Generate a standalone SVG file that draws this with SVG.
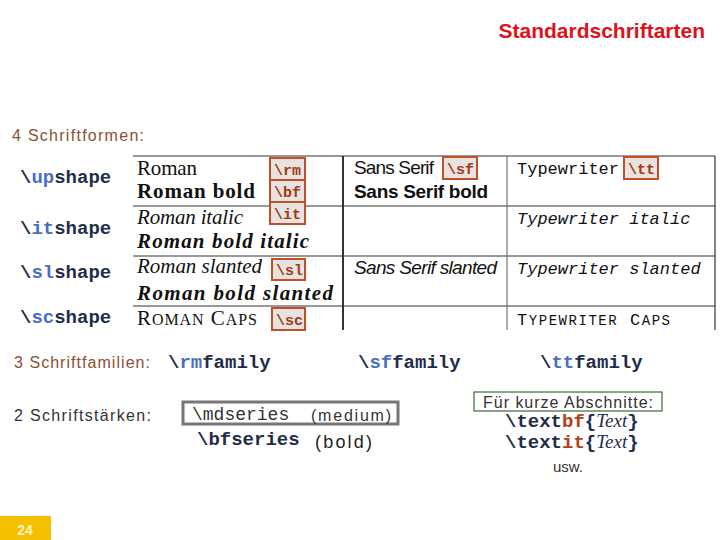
<svg xmlns="http://www.w3.org/2000/svg" width="720" height="540" viewBox="0 0 720 540">
<style>
.cmd{font-family:"Liberation Mono",monospace;font-weight:bold;font-size:19px;fill:#1f2d4a}
.blue{fill:#4a6fc0}
.red{fill:#b5401a}
.rm{font-family:"Liberation Serif",serif;font-size:21px;fill:#111}
.ss{font-family:"Liberation Sans",sans-serif;font-size:19px;fill:#111}
.tt{font-family:"Liberation Mono",monospace;font-size:17px;fill:#111}
.lbl{font-family:"Liberation Sans",sans-serif;font-size:16px}
.box{fill:#e8e3e0;stroke:#c0502a;stroke-width:2}
.boxt{font-family:"Liberation Mono",monospace;font-weight:bold;font-size:15px;fill:#a33b12}
</style>
<rect width="720" height="540" fill="#fff"/>
<text id="title" x="705" y="38" text-anchor="end" font-family="Liberation Sans,sans-serif" font-weight="bold" font-size="21" fill="#e0101a">Standardschriftarten</text>
<text x="12" y="141" class="lbl" fill="#8a5030" textLength="132">4 Schriftformen:</text>
<g id="shapes">
<text x="20" y="183" class="cmd">\<tspan class="blue">up</tspan>shape</text>
<text x="20" y="234" class="cmd">\<tspan class="blue">it</tspan>shape</text>
<text x="20" y="278" class="cmd">\<tspan class="blue">sl</tspan>shape</text>
<text x="20" y="323" class="cmd">\<tspan class="blue">sc</tspan>shape</text>
</g>
<g id="table">
<g stroke="#333" stroke-width="1.2">
<line x1="133" y1="156" x2="715" y2="156"/>
<line x1="133" y1="206" x2="715" y2="206"/>
<line x1="133" y1="256" x2="715" y2="256"/>
<line x1="133" y1="306" x2="715" y2="306"/>
<line x1="343" y1="156" x2="343" y2="330" stroke-width="2"/>
<line x1="507" y1="156" x2="507" y2="330" stroke="#777"/>
<line x1="715" y1="156" x2="715" y2="330"/>
</g>
<text x="137" y="175" class="rm" textLength="60">Roman</text>
<text x="137" y="198" class="rm" font-weight="bold" textLength="118">Roman bold</text>
<text x="137" y="224" class="rm" font-style="italic" textLength="106">Roman italic</text>
<text x="137" y="248" class="rm" font-weight="bold" font-style="italic" textLength="172">Roman bold italic</text>
<text x="137" y="273" class="rm" font-style="italic" textLength="125">Roman slanted</text>
<text x="137" y="300" class="rm" font-weight="bold" font-style="italic" font-size="20" textLength="196">Roman bold slanted</text>
<text x="137" y="325" class="rm" textLength="120">R<tspan font-size="16">OMAN</tspan> C<tspan font-size="16">APS</tspan></text>
<text x="354" y="174" class="ss" textLength="80">Sans Serif</text>
<text x="354" y="198" class="ss" font-weight="bold" textLength="134">Sans Serif bold</text>
<text x="354" y="274" class="ss" font-style="italic" textLength="143">Sans Serif slanted</text>
<text x="517" y="174" class="tt">Typewriter</text>
<text x="517" y="224" class="tt" font-style="italic">Typewriter italic</text>
<text x="517" y="274" class="tt" font-style="italic">Typewriter slanted</text>
<text x="517" y="325" class="tt" textLength="153">T<tspan font-size="14">YPEWRITER</tspan> C<tspan font-size="14">APS</tspan></text>
</g>
<g id="tags">
<rect x="270" y="158" width="35" height="22" class="box"/><text x="274" y="175" class="boxt">\rm</text>
<rect x="270" y="180" width="35" height="22" class="box"/><text x="274" y="197" class="boxt">\bf</text>
<rect x="270" y="202" width="35" height="22" class="box"/><text x="274" y="219" class="boxt">\it</text>
<rect x="272" y="259" width="33" height="21" class="box"/><text x="276" y="275" class="boxt">\sl</text>
<rect x="272" y="308" width="33" height="22" class="box"/><text x="276" y="325" class="boxt">\sc</text>
<rect x="443" y="157" width="34" height="22" class="box"/><text x="447" y="174" class="boxt">\sf</text>
<rect x="624" y="157" width="34" height="22" class="box"/><text x="628" y="174" class="boxt">\tt</text>
</g>
<g id="families">
<text x="14" y="368" class="lbl" fill="#8a5030" textLength="136">3 Schriftfamilien:</text>
<text x="168" y="368" class="cmd">\<tspan class="blue">rm</tspan>family</text>
<text x="358" y="368" class="cmd">\<tspan class="blue">sf</tspan>family</text>
<text x="540" y="368" class="cmd">\<tspan class="blue">tt</tspan>family</text>
</g>
<g id="series">
<text x="14" y="421" class="lbl" fill="#333" textLength="137">2 Schriftstärken:</text>
<rect x="183" y="402" width="215" height="22" fill="none" stroke="#777" stroke-width="3"/>
<text x="192" y="420" font-family="Liberation Mono,monospace" font-size="18" fill="#333">\mdseries</text>
<text x="311" y="421" font-family="Liberation Sans,sans-serif" font-size="16" fill="#333" textLength="80">(medium)</text>
<text x="197" y="445" class="cmd" font-size="18">\bfseries</text>
<text x="315" y="448" font-family="Liberation Sans,sans-serif" font-size="18" fill="#222" textLength="57">(bold)</text>
</g>
<g id="short">
<rect x="474" y="392" width="188" height="19" fill="none" stroke="#3a6a3a" stroke-width="1.2"/>
<text x="568" y="408" text-anchor="middle" font-family="Liberation Sans,sans-serif" font-size="16" fill="#333" textLength="170">Für kurze Abschnitte:</text>
<text x="505" y="427" class="cmd" font-size="17">\text<tspan class="red">bf</tspan>{<tspan font-family="Liberation Serif,serif" font-style="italic" font-weight="normal">Text</tspan>}</text>
<text x="505" y="448" class="cmd" font-size="17">\text<tspan class="red">it</tspan>{<tspan font-family="Liberation Serif,serif" font-style="italic" font-weight="normal">Text</tspan>}</text>
<text x="568" y="472" text-anchor="middle" font-family="Liberation Sans,sans-serif" font-size="15" fill="#333">usw.</text>
</g>
<g id="page">
<rect x="0" y="516" width="51" height="24" fill="#f5c000"/>
<text x="25" y="535" text-anchor="middle" font-family="Liberation Sans,sans-serif" font-weight="bold" font-size="14" fill="#fff4c0">24</text>
</g>
</svg>
